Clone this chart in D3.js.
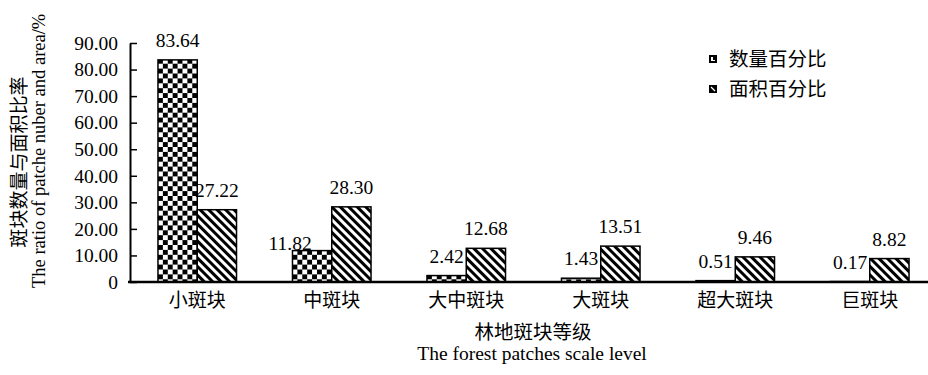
<!DOCTYPE html>
<html>
<head>
<meta charset="utf-8">
<script src="https://cdn.jsdelivr.net/npm/d3@7"></script>
<style>
  html, body { margin: 0; padding: 0; background: #fff; }
  svg { display: block; }
</style>
</head>
<body>
<svg id="chart" width="928" height="375"></svg>
<script>
// Woodland patch scale levels and their shares (%)
const categories = ['小斑块', '中斑块', '大中斑块', '大斑块', '超大斑块', '巨斑块'];
const countPct = [83.64, 11.82, 2.42, 1.43, 0.51, 0.17];
const areaPct = [27.22, 28.30, 12.68, 13.51, 9.46, 8.82];
const seriesNames = ['数量百分比', '面积百分比'];
const yTickValues = [0, 10, 20, 30, 40, 50, 60, 70, 80, 90];

const SERIF = '"Liberation Serif", "Times New Roman", serif';
const CJK = '"Noto Sans CJK SC", "Liberation Serif", serif';

const svg = d3.select('#chart');
const defs = svg.append('defs');

// checkerboard fill
const cell = 4.9;
const checker = defs.append('pattern')
  .attr('id', 'checker').attr('patternUnits', 'userSpaceOnUse')
  .attr('width', cell * 2).attr('height', cell * 2);
checker.append('rect').attr('width', cell * 2).attr('height', cell * 2).attr('fill', '#fff');
checker.append('rect').attr('width', cell).attr('height', cell).attr('fill', '#000');
checker.append('rect').attr('x', cell).attr('y', cell).attr('width', cell).attr('height', cell).attr('fill', '#000');

// back-slash diagonal hatching
const hatch = defs.append('pattern')
  .attr('id', 'hatch').attr('patternUnits', 'userSpaceOnUse')
  .attr('width', 6).attr('height', 6)
  .attr('patternTransform', 'rotate(-45)');
hatch.append('rect').attr('width', 6).attr('height', 6).attr('fill', '#fff');
hatch.append('rect').attr('width', 3).attr('height', 6).attr('fill', '#000');

const fills = ['url(#checker)', 'url(#hatch)'];

const x = d3.scaleBand().domain(categories).range([130, 937])
  .paddingInner(0.416).paddingOuter(0.208);
const xs = d3.scaleBand().domain([0, 1]).range([0, x.bandwidth()]);
const y = d3.scaleLinear().domain([0, 90]).range([282, 43]);

const rows = categories.map((c, i) => ({ cat: c, vals: [countPct[i], areaPct[i]] }));

// bars
const groups = svg.append('g').selectAll('g').data(rows).join('g')
  .attr('transform', d => `translate(${x(d.cat)},0)`);

groups.selectAll('rect').data(d => d.vals.map((v, k) => ({ v, k, cat: d.cat })))
  .join('rect')
  .attr('x', d => xs(d.k))
  .attr('y', d => y(d.v))
  .attr('width', xs.bandwidth())
  .attr('height', d => y(0) - y(d.v))
  .attr('fill', d => fills[d.k])
  .attr('stroke', '#000')
  .attr('stroke-width', 1.5);

// value labels; the 中斑块 count label sits beside its bar
const labelNudge = { '中斑块-0': [-22, 12] };
const nudge = d => labelNudge[d.cat + '-' + d.k] || [0, 0];
groups.selectAll('text').data(d => d.vals.map((v, k) => ({ v, k, cat: d.cat })))
  .join('text')
  .style('font-family', SERIF)
  .attr('font-size', 19.5)
  .attr('text-anchor', 'middle')
  .attr('x', d => xs(d.k) + xs.bandwidth() / 2 + nudge(d)[0])
  .attr('y', d => y(d.v) - 13 + nudge(d)[1])
  .text(d => d.v.toFixed(2));

// y axis
const yAxis = svg.append('g').attr('transform', 'translate(130,0)')
  .call(d3.axisLeft(y).tickValues(yTickValues)
    .tickFormat(d => d === 0 ? '0' : d.toFixed(2))
    .tickSizeInner(-7).tickSizeOuter(0).tickPadding(12));
yAxis.attr('font-family', null);
yAxis.select('.domain').attr('stroke', '#000').attr('stroke-width', 2);
yAxis.selectAll('.tick line').attr('stroke', '#000').attr('stroke-width', 1.5);
yAxis.selectAll('.tick text').style('font-family', SERIF).attr('font-size', 19.5).attr('fill', '#000');

// x axis
const xAxis = svg.append('g').attr('transform', 'translate(0,282)')
  .call(d3.axisBottom(x).tickSize(0).tickPadding(12));
xAxis.attr('font-family', null);
xAxis.select('.domain').remove();
xAxis.selectAll('.tick text').style('font-family', CJK).attr('font-size', 19).attr('fill', '#000');
svg.append('line').attr('x1', 128).attr('x2', 928).attr('y1', y(0)).attr('y2', y(0))
  .attr('stroke', '#000').attr('stroke-width', 2.5);

// axis titles
svg.append('text').style('font-family', CJK).attr('font-size', 19)
  .attr('text-anchor', 'middle')
  .attr('transform', 'translate(26,162) rotate(-90)')
  .text('斑块数量与面积比率');
svg.append('text').style('font-family', SERIF).attr('font-size', 18.5)
  .attr('text-anchor', 'start')
  .attr('transform', 'translate(45,288) rotate(-90)')
  .text('The ratio of patche nuber and area/%');
svg.append('text').style('font-family', CJK).attr('font-size', 19.5)
  .attr('text-anchor', 'middle').attr('x', 533).attr('y', 339)
  .text('林地斑块等级');
svg.append('text').style('font-family', SERIF).attr('font-size', 19.5)
  .attr('text-anchor', 'middle').attr('x', 532).attr('y', 360)
  .text('The forest patches scale level');

// legend
const legend = svg.append('g').selectAll('g').data(seriesNames).join('g')
  .attr('transform', (d, i) => `translate(709,${55 + i * 30})`);
legend.append('rect').attr('width', 8).attr('height', 8).attr('fill', '#000');
legend.filter((d, i) => i === 0).append('path')
  .attr('d', 'M2,2 H4 V5 H6 V6 H2 Z').attr('fill', '#fff');
legend.filter((d, i) => i === 1).append('path')
  .attr('d', 'M2,2 L6,6').attr('stroke', '#fff').attr('stroke-width', 1.3);
legend.append('text').style('font-family', CJK).attr('font-size', 19.5)
  .attr('x', 20).attr('y', 11).text(d => d);
</script>
</body>
</html>
